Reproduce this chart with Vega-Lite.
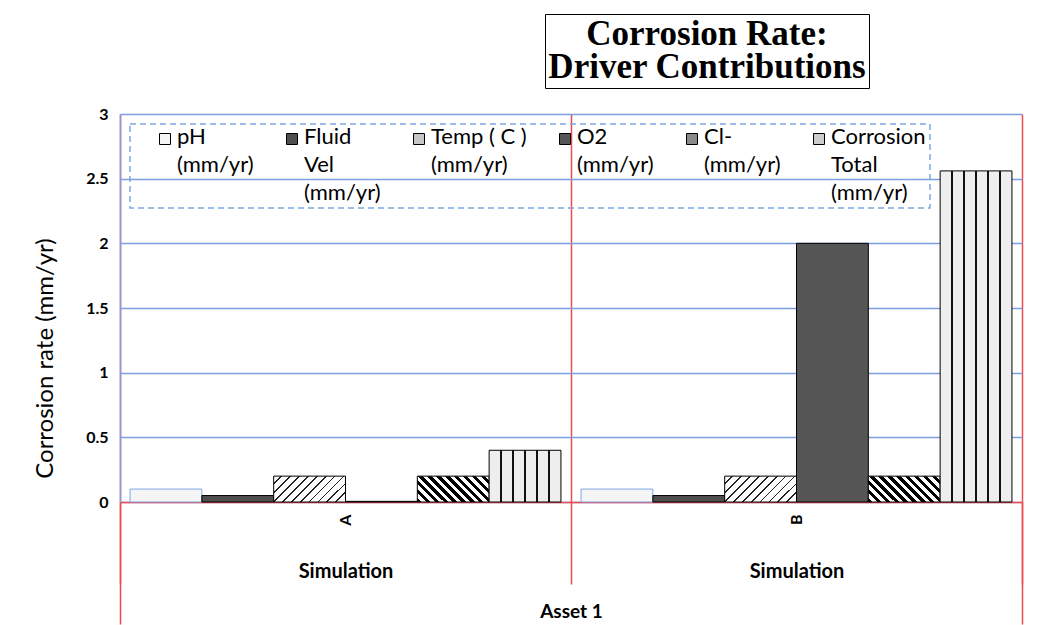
{
  "$schema": "https://vega.github.io/schema/vega-lite/v6.json",
  "width": 1055,
  "height": 625,
  "autosize": {"type": "fit", "contains": "padding"},
  "padding": {"left": 33, "top": 106, "right": 32, "bottom": 0},
  "background": "white",
  "config": {"view": {"stroke": null}, "font": "Lato"},
  "data": {
    "values": [
      {"group": "A", "driver": "pH (mm/yr)", "value": 0.1},
      {"group": "A", "driver": "Fluid Vel (mm/yr)", "value": 0.05},
      {"group": "A", "driver": "Temp ( C ) (mm/yr)", "value": 0.2},
      {"group": "A", "driver": "O2 (mm/yr)", "value": 0.005},
      {"group": "A", "driver": "Cl- (mm/yr)", "value": 0.2},
      {"group": "A", "driver": "Corrosion Total (mm/yr)", "value": 0.4},
      {"group": "B", "driver": "pH (mm/yr)", "value": 0.1},
      {"group": "B", "driver": "Fluid Vel (mm/yr)", "value": 0.05},
      {"group": "B", "driver": "Temp ( C ) (mm/yr)", "value": 0.2},
      {"group": "B", "driver": "O2 (mm/yr)", "value": 2.0},
      {"group": "B", "driver": "Cl- (mm/yr)", "value": 0.2},
      {"group": "B", "driver": "Corrosion Total (mm/yr)", "value": 2.56}
    ]
  },
  "layer": [
    {
      "mark": {"type": "bar", "strokeWidth": 1},
      "encoding": {
        "x": {
          "field": "group",
          "type": "nominal",
          "scale": {"paddingInner": 0, "paddingOuter": 0},
          "axis": {
            "orient": "bottom",
            "title": null,
            "labelAngle": 270,
            "labelFontWeight": "bold",
            "labelFontSize": 16,
            "labelColor": "black",
            "labelPadding": -70,
            "ticks": true,
            "tickSize": 82,
            "tickColor": "#ef4a4f",
            "tickWidth": 1.5,
            "tickBand": "extent",
            "domain": true,
            "domainColor": "#ef4a4f",
            "domainWidth": 1.5,
            "grid": true,
            "gridColor": "#ef4a4f",
            "gridWidth": 1.5
          }
        },
        "xOffset": {
          "field": "driver",
          "type": "nominal",
          "sort": ["pH (mm/yr)", "Fluid Vel (mm/yr)", "Temp ( C ) (mm/yr)", "O2 (mm/yr)", "Cl- (mm/yr)", "Corrosion Total (mm/yr)"],
          "scale": {"paddingInner": 0, "paddingOuter": 0.14}
        },
        "y": {
          "field": "value",
          "type": "quantitative",
          "stack": null,
          "scale": {"domain": [0, 3], "nice": false},
          "axis": {
            "title": "Corrosion rate (mm/yr)",
            "titleFontSize": 24,
            "titleFontWeight": "normal",
            "titleColor": "black",
            "titleX": -75,
            "titleY": 244,
            "titleAngle": 270,
            "titleAlign": "center",
            "titleBaseline": "middle",
            "values": [0, 0.5, 1, 1.5, 2, 2.5, 3],
            "labelExpr": "'' + datum.value",
            "labelFontWeight": "bold",
            "labelFontSize": 16,
            "labelColor": "black",
            "labelPadding": 12,
            "ticks": false,
            "domain": true,
            "domainColor": "#7d9fe0",
            "domainWidth": 1.5,
            "grid": true,
            "gridColor": "#7d9fe0",
            "gridWidth": 1.5
          }
        },
        "fill": {
          "field": "driver",
          "type": "nominal",
          "sort": ["pH (mm/yr)", "Fluid Vel (mm/yr)", "Temp ( C ) (mm/yr)", "O2 (mm/yr)", "Cl- (mm/yr)", "Corrosion Total (mm/yr)"],
          "scale": {
            "domain": ["pH (mm/yr)", "Fluid Vel (mm/yr)", "Temp ( C ) (mm/yr)", "O2 (mm/yr)", "Cl- (mm/yr)", "Corrosion Total (mm/yr)"],
            "range": ["#f5f5f5", "#4e4e4e", "#c6c6c6", "#565656", "#8a8a8a", "#cccccc"]
          },
          "condition": [
            {"test": "datum.driver === 'Temp ( C ) (mm/yr)'", "value": {"gradient": "linear", "x1": 0, "y1": 0, "x2": 1.2044, "y2": 0.4348, "stops": [
              {"offset": 0, "color": "#ffffff"}, {"offset": 0.072, "color": "#ffffff"}, {"offset": 0.072, "color": "#222222"}, {"offset": 0.091, "color": "#222222"}, {"offset": 0.091, "color": "#ffffff"},
              {"offset": 0.163, "color": "#ffffff"}, {"offset": 0.163, "color": "#222222"}, {"offset": 0.182, "color": "#222222"}, {"offset": 0.182, "color": "#ffffff"},
              {"offset": 0.254, "color": "#ffffff"}, {"offset": 0.254, "color": "#222222"}, {"offset": 0.273, "color": "#222222"}, {"offset": 0.273, "color": "#ffffff"},
              {"offset": 0.345, "color": "#ffffff"}, {"offset": 0.345, "color": "#222222"}, {"offset": 0.364, "color": "#222222"}, {"offset": 0.364, "color": "#ffffff"},
              {"offset": 0.436, "color": "#ffffff"}, {"offset": 0.436, "color": "#222222"}, {"offset": 0.455, "color": "#222222"}, {"offset": 0.455, "color": "#ffffff"},
              {"offset": 0.527, "color": "#ffffff"}, {"offset": 0.527, "color": "#222222"}, {"offset": 0.545, "color": "#222222"}, {"offset": 0.545, "color": "#ffffff"},
              {"offset": 0.618, "color": "#ffffff"}, {"offset": 0.618, "color": "#222222"}, {"offset": 0.636, "color": "#222222"}, {"offset": 0.636, "color": "#ffffff"},
              {"offset": 0.709, "color": "#ffffff"}, {"offset": 0.709, "color": "#222222"}, {"offset": 0.727, "color": "#222222"}, {"offset": 0.727, "color": "#ffffff"},
              {"offset": 0.8, "color": "#ffffff"}, {"offset": 0.8, "color": "#222222"}, {"offset": 0.818, "color": "#222222"}, {"offset": 0.818, "color": "#ffffff"},
              {"offset": 0.891, "color": "#ffffff"}, {"offset": 0.891, "color": "#222222"}, {"offset": 0.909, "color": "#222222"}, {"offset": 0.909, "color": "#ffffff"},
              {"offset": 1, "color": "#ffffff"}
            ]}},
            {"test": "datum.driver === 'Cl- (mm/yr)'", "value": {"gradient": "linear", "x1": 0, "y1": 1, "x2": 1.2044, "y2": 0.5652, "stops": [
              {"offset": 0, "color": "#000000"}, {"offset": 0.045, "color": "#000000"}, {"offset": 0.045, "color": "#ffffff"}, {"offset": 0.091, "color": "#ffffff"},
              {"offset": 0.091, "color": "#000000"}, {"offset": 0.136, "color": "#000000"}, {"offset": 0.136, "color": "#ffffff"}, {"offset": 0.182, "color": "#ffffff"},
              {"offset": 0.182, "color": "#000000"}, {"offset": 0.227, "color": "#000000"}, {"offset": 0.227, "color": "#ffffff"}, {"offset": 0.273, "color": "#ffffff"},
              {"offset": 0.273, "color": "#000000"}, {"offset": 0.318, "color": "#000000"}, {"offset": 0.318, "color": "#ffffff"}, {"offset": 0.364, "color": "#ffffff"},
              {"offset": 0.364, "color": "#000000"}, {"offset": 0.409, "color": "#000000"}, {"offset": 0.409, "color": "#ffffff"}, {"offset": 0.455, "color": "#ffffff"},
              {"offset": 0.455, "color": "#000000"}, {"offset": 0.5, "color": "#000000"}, {"offset": 0.5, "color": "#ffffff"}, {"offset": 0.545, "color": "#ffffff"},
              {"offset": 0.545, "color": "#000000"}, {"offset": 0.591, "color": "#000000"}, {"offset": 0.591, "color": "#ffffff"}, {"offset": 0.636, "color": "#ffffff"},
              {"offset": 0.636, "color": "#000000"}, {"offset": 0.682, "color": "#000000"}, {"offset": 0.682, "color": "#ffffff"}, {"offset": 0.727, "color": "#ffffff"},
              {"offset": 0.727, "color": "#000000"}, {"offset": 0.773, "color": "#000000"}, {"offset": 0.773, "color": "#ffffff"}, {"offset": 0.818, "color": "#ffffff"},
              {"offset": 0.818, "color": "#000000"}, {"offset": 0.864, "color": "#000000"}, {"offset": 0.864, "color": "#ffffff"}, {"offset": 0.909, "color": "#ffffff"},
              {"offset": 0.909, "color": "#000000"}, {"offset": 0.955, "color": "#000000"}, {"offset": 0.955, "color": "#ffffff"}, {"offset": 1, "color": "#ffffff"}
            ]}},
            {"test": "datum.driver === 'Corrosion Total (mm/yr)'", "value": {"gradient": "linear", "x1": 0, "y1": 0, "x2": 1, "y2": 0, "stops": [
              {"offset": 0, "color": "#eeeeee"}, {"offset": 0.157, "color": "#eeeeee"}, {"offset": 0.157, "color": "#111111"}, {"offset": 0.177, "color": "#111111"}, {"offset": 0.177, "color": "#eeeeee"},
              {"offset": 0.323, "color": "#eeeeee"}, {"offset": 0.323, "color": "#111111"}, {"offset": 0.343, "color": "#111111"}, {"offset": 0.343, "color": "#eeeeee"},
              {"offset": 0.49, "color": "#eeeeee"}, {"offset": 0.49, "color": "#111111"}, {"offset": 0.51, "color": "#111111"}, {"offset": 0.51, "color": "#eeeeee"},
              {"offset": 0.657, "color": "#eeeeee"}, {"offset": 0.657, "color": "#111111"}, {"offset": 0.677, "color": "#111111"}, {"offset": 0.677, "color": "#eeeeee"},
              {"offset": 0.823, "color": "#eeeeee"}, {"offset": 0.823, "color": "#111111"}, {"offset": 0.843, "color": "#111111"}, {"offset": 0.843, "color": "#eeeeee"},
              {"offset": 1, "color": "#eeeeee"}
            ]}}
          ],
          "legend": {
            "orient": "none",
            "legendX": 10,
            "legendY": 10,
            "direction": "horizontal",
            "columns": 6,
            "title": null,
            "labelFont": "Lato",
            "labelFontSize": 22,
            "labelColor": "black",
            "labelLimit": 300,
            "labelBaseline": "top",
            "labelExpr": "datum.label == 'pH (mm/yr)' ? ['pH', '(mm/yr)', ' '] : datum.label == 'Fluid Vel (mm/yr)' ? ['Fluid', 'Vel', '(mm/yr)'] : datum.label == 'Temp ( C ) (mm/yr)' ? ['Temp ( C )', '(mm/yr)', ' '] : datum.label == 'O2 (mm/yr)' ? ['O2', '(mm/yr)', ' '] : datum.label == 'Cl- (mm/yr)' ? ['Cl-', '(mm/yr)', ' '] : ['Corrosion', 'Total', '(mm/yr)']",
            "symbolType": "square",
            "symbolSize": 121,
            "symbolStrokeColor": "black",
            "symbolStrokeWidth": 1,
            "columnPadding": 30,
            "padding": 4,
            "strokeColor": "#7ea6e0",
            "encode": {
              "legend": {"update": {"strokeDash": {"value": [6, 4]}, "strokeWidth": {"value": 1.5}}},
              "symbols": {"update": {"x": [{"test": "datum.index === 0", "value": 31}, {"value": 6}]}},
              "labels": {"update": {"x": [{"test": "datum.index === 0", "value": 43}, {"value": 18}], "lineHeight": {"value": 28}, "dy": {"value": -12}}}
            }
          }
        },
        "stroke": {
          "condition": {"test": "datum.driver === 'pH (mm/yr)'", "value": "#7ea6e0"},
          "value": "black"
        }
      }
    },
    {
      "mark": {"type": "bar", "fillOpacity": 0, "strokeOpacity": 0},
      "encoding": {
        "x": {
          "field": "group",
          "type": "nominal",
          "axis": {
            "orient": "bottom",
            "title": "Asset 1",
            "titleFontWeight": "bold",
            "titleFontSize": 19,
            "titleColor": "black",
            "titleY": 109,
            "titleBaseline": "middle",
            "labelExpr": "(datum.value === 'A' || datum.value === 'B') ? 'Simulation' : ''",
            "labelAngle": 0,
            "labelFontWeight": "bold",
            "labelFontSize": 20,
            "labelColor": "black",
            "labelBaseline": "middle",
            "labelPadding": -53,
            "domain": false,
            "grid": false,
            "ticks": true,
            "tickBand": "extent",
            "tickSize": 122,
            "tickWidth": 1.5,
            "tickColor": {"condition": {"test": "datum.value === 'A'", "value": "transparent"}, "value": "#ef4a4f"}
          }
        },
        "y": {"field": "value", "type": "quantitative", "stack": null},
        "opacity": {
          "field": "group",
          "type": "nominal",
          "legend": {
            "orient": "none",
            "legendX": 425,
            "legendY": -100,
            "values": ["A"],
            "labelExpr": "''",
            "labelFontSize": 1,
            "symbolSize": 0,
            "symbolOpacity": 0,
            "title": ["Corrosion Rate:", "Driver Contributions"],
            "titleFont": "Liberation Serif",
            "titleFontSize": 35,
            "titleFontWeight": "bold",
            "titleColor": "black",
            "titleLineHeight": 33,
            "titleAnchor": "middle",
            "titleAlign": "center",
            "titleLimit": 600,
            "titlePadding": -22,
            "padding": 3,
            "strokeColor": "black",
            "encode": {"legend": {"update": {"strokeWidth": {"value": 3}}}}
          }
        }
      }
    }
  ],
  "resolve": {"axis": {"x": "independent"}}
}
